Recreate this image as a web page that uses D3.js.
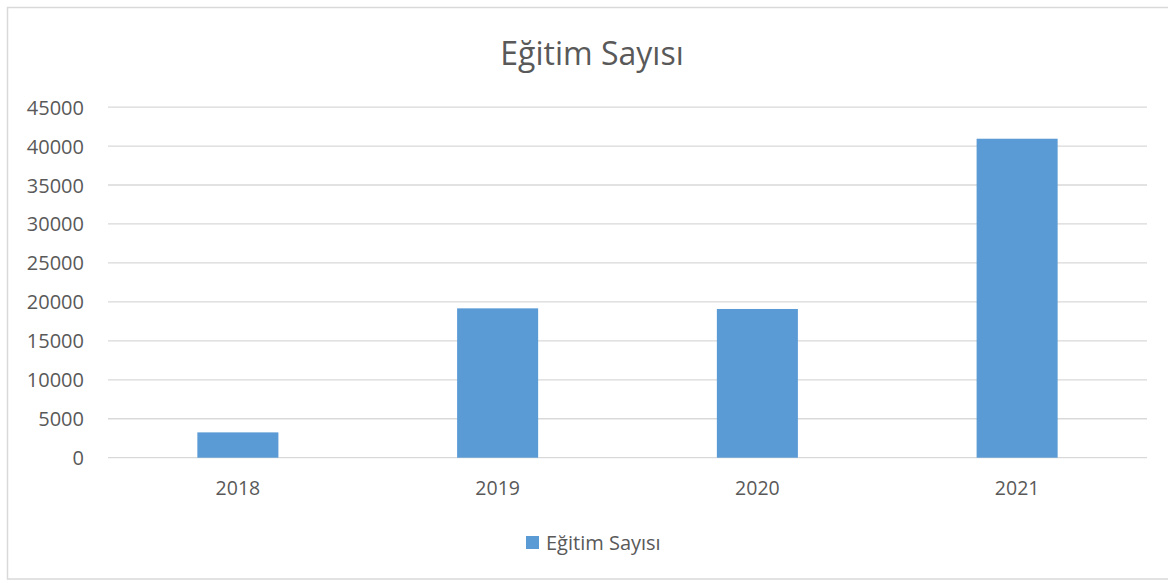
<!DOCTYPE html>
<html><head><meta charset="utf-8">
<script src="https://cdn.jsdelivr.net/npm/d3@7"></script>
<style>body{margin:0;background:#fff;} svg text{font-family:"Open Sans",sans-serif;fill:#595959;}</style>
</head><body>
<svg id="c" width="1168" height="581"></svg>
<script>
const categories = ["2018","2019","2020","2021"];
const values = [3250, 19170, 19090, 40940];
const yTicks = [0,5000,10000,15000,20000,25000,30000,35000,40000,45000];
const seriesName = "Eğitim Sayısı";
const title = "Eğitim Sayısı";

const svg = d3.select("#c");
const m = {left:108, right:1147, top:107.1, bottom:457.7};
// outer border
svg.append("rect").attr("x",7.5).attr("y",7.5).attr("width",1200).attr("height",571.5)
  .attr("fill","none").attr("stroke","#d9d9d9").attr("stroke-width",1.5);

const x = d3.scaleBand().domain(categories).range([m.left,m.right]).paddingInner(0.688).paddingOuter(0.344);
const y = d3.scaleLinear().domain([0,45000]).range([m.bottom,m.top]);

// gridlines
svg.append("g").selectAll("line").data(yTicks).join("line")
  .attr("x1",m.left).attr("x2",m.right).attr("y1",d=>y(d)).attr("y2",d=>y(d))
  .attr("stroke","#d9d9d9").attr("stroke-width",1.3);

// bars
svg.append("g").selectAll("rect").data(values).join("rect")
  .attr("x",(d,i)=>x(categories[i])).attr("width",x.bandwidth())
  .attr("y",d=>y(d)).attr("height",d=>y(0)-y(d)).attr("fill","#5b9bd5");

// y axis labels
const ya = svg.append("g").attr("transform",`translate(${m.left-24},0)`)
  .call(d3.axisLeft(y).tickValues(yTicks).tickSize(0).tickPadding(0).tickFormat(d3.format("d")));
ya.select(".domain").remove();
ya.selectAll("text").style("font-size","20px").attr("dy","0.35em").attr("fill","#595959");

// x axis labels
const xa = svg.append("g").attr("transform",`translate(0,${m.bottom})`)
  .call(d3.axisBottom(x).tickSize(0).tickPadding(23));
xa.select(".domain").remove();
xa.selectAll("text").style("font-size","19.5px").attr("fill","#595959");

// title
svg.append("text").attr("x",592).attr("y",65).attr("text-anchor","middle")
  .style("font-size","32px").text(title);

// legend
svg.append("rect").attr("x",526).attr("y",536).attr("width",13).attr("height",13).attr("fill","#5b9bd5");
svg.append("text").attr("x",546).attr("y",549.5).style("font-size","20px").text(seriesName);
</script>
</body></html>
